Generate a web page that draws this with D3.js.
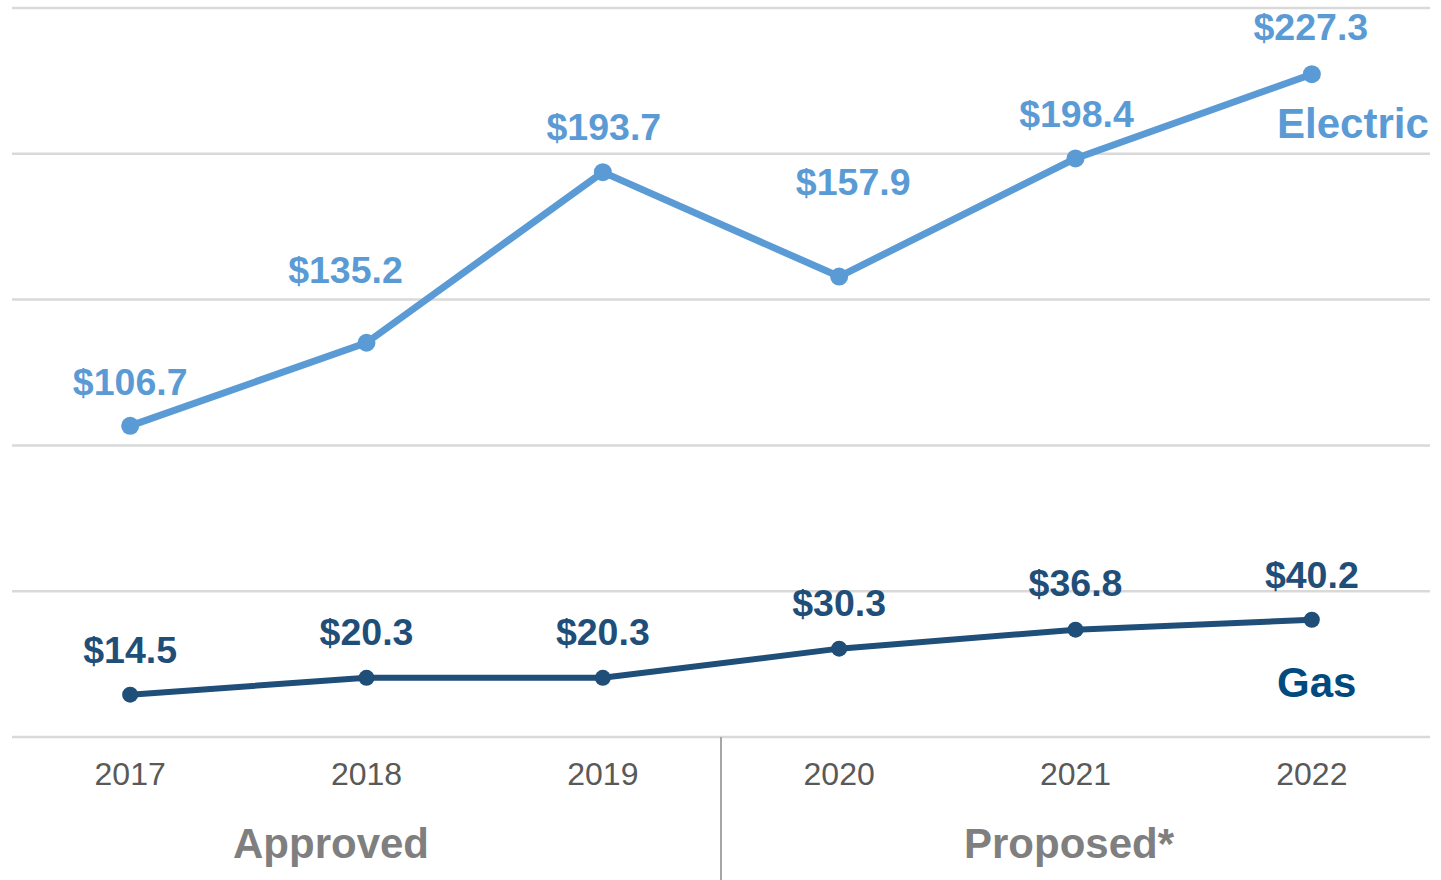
<!DOCTYPE html>
<html>
<head>
<meta charset="utf-8">
<script src="https://cdn.jsdelivr.net/npm/d3@7"></script>
<style>
  html, body { margin: 0; padding: 0; background: #fff; }
  svg { display: block; font-family: Arial, "Liberation Sans", sans-serif; }
</style>
</head>
<body>
<svg id="chart" width="1441" height="880"></svg>
<script>
// ---- data ----
const years = ["2017", "2018", "2019", "2020", "2021", "2022"];
const electric = [106.7, 135.2, 193.7, 157.9, 198.4, 227.3];
const gas = [14.5, 20.3, 20.3, 30.3, 36.8, 40.2];
const yTicks = [0, 50, 100, 150, 200, 250];
const groups = ["Approved", "Proposed*"];

// ---- layout (label placement) ----
const electricLabelDx = [0, -21, 1, 14, 1, -1];
const electricLabelDy = [-31, -60, -32, -82, -31, -34];
const gasLabelDy = [-32, -33, -33, -33, -34, -32];

(function () {
const svg = d3.select("#chart");
const plotLeft = 12, plotRight = 1430, plotTop = 8, plotBottom = 737;

const x = d3.scaleBand().domain(years).range([plotLeft, plotRight]);
const cx = d => x(d) + x.bandwidth() / 2;
const y = d3.scaleLinear().domain([0, 250]).range([plotBottom, plotTop]);

// gridlines
svg.append("g").selectAll("line").data(yTicks).join("line")
  .attr("x1", plotLeft).attr("x2", plotRight)
  .attr("y1", d => y(d)).attr("y2", d => y(d))
  .attr("stroke", "#d9d9d9").attr("stroke-width", 2.5);

// divider between approved and proposed
const divX = (cx("2019") + cx("2020")) / 2;
svg.append("line")
  .attr("x1", divX).attr("x2", divX)
  .attr("y1", y(0)).attr("y2", 880)
  .attr("stroke", "#a6a6a6").attr("stroke-width", 2);

// x labels
svg.append("g").selectAll("text").data(years).join("text")
  .attr("x", d => cx(d)).attr("y", 785)
  .attr("text-anchor", "middle")
  .attr("font-size", 32).attr("fill", "#595959")
  .text(d => d);

// group labels
svg.append("text").attr("x", 331).attr("y", 858)
  .attr("text-anchor", "middle").attr("font-size", 42).attr("font-weight", "bold")
  .attr("fill", "#7f7f7f").text(groups[0]);
svg.append("text").attr("x", 1069).attr("y", 858)
  .attr("text-anchor", "middle").attr("font-size", 42).attr("font-weight", "bold")
  .attr("fill", "#7f7f7f").text(groups[1]);

function drawSeries(values, color, width, r, labelColor, dxArr, dyArr) {
  const pts = values.map((v, i) => ({ year: years[i], v, i }));
  const line = d3.line().x(d => cx(d.year)).y(d => y(d.v));
  svg.append("path").datum(pts)
    .attr("d", line).attr("fill", "none")
    .attr("stroke", color).attr("stroke-width", width)
    .attr("stroke-linejoin", "round");
  svg.append("g").selectAll("circle").data(pts).join("circle")
    .attr("cx", d => cx(d.year)).attr("cy", d => y(d.v))
    .attr("r", r).attr("fill", color);
  svg.append("g").selectAll("text").data(pts).join("text")
    .attr("x", d => cx(d.year) + (dxArr ? dxArr[d.i] : 0))
    .attr("y", d => y(d.v) + dyArr[d.i])
    .attr("text-anchor", "middle")
    .attr("font-size", 37.5).attr("font-weight", "bold")
    .attr("fill", labelColor)
    .text(d => "$" + d.v.toFixed(1));
}

drawSeries(electric, "#5b9bd5", 7, 9, "#5b9bd5", electricLabelDx, electricLabelDy);
drawSeries(gas, "#1f4e79", 6, 8, "#1f4e79", null, gasLabelDy);

// series names
svg.append("text").attr("x", 1277).attr("y", 138)
  .attr("font-size", 42).attr("font-weight", "bold")
  .attr("fill", "#5b9bd5").text("Electric");
svg.append("text").attr("x", 1277).attr("y", 697)
  .attr("font-size", 42).attr("font-weight", "bold")
  .attr("fill", "#004a80").text("Gas");
})();
</script>
</body>
</html>
